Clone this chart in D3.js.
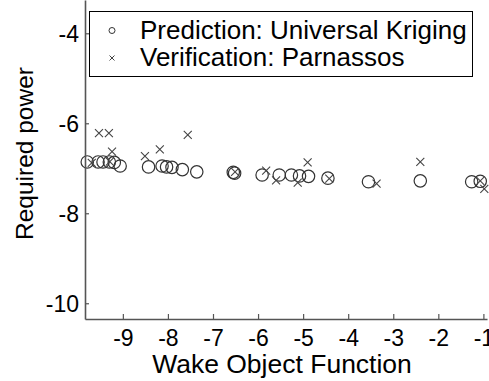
<!DOCTYPE html>
<html><head><meta charset="utf-8">
<script src="https://cdn.jsdelivr.net/npm/d3@7"></script>
<style>body{margin:0;background:#fff}svg{display:block}text{font-family:"Liberation Sans",Arial,sans-serif;fill:#000}</style>
</head><body>
<script>
const predX = [-9.79,-9.55,-9.44,-9.30,-9.19,-9.06,-8.43,-8.13,-8.03,-7.91,-7.68,-7.36,-6.55,-6.52,-5.91,-5.53,-5.26,-5.08,-4.88,-4.45,-3.55,-2.40,-1.26,-1.07];
const predY = [-6.86,-6.86,-6.86,-6.86,-6.87,-6.95,-6.97,-6.95,-6.97,-6.98,-7.03,-7.08,-7.09,-7.11,-7.15,-7.15,-7.15,-7.17,-7.18,-7.22,-7.30,-7.28,-7.30,-7.29];
const verX = [-9.69,-9.53,-9.31,-9.24,-9.29,-8.51,-8.18,-7.56,-6.51,-5.82,-5.60,-5.12,-4.90,-4.42,-3.37,-2.40,-1.07,-0.98];
const verY = [-6.88,-6.22,-6.22,-6.63,-6.85,-6.73,-6.58,-6.26,-7.08,-7.05,-7.27,-7.32,-6.87,-7.23,-7.34,-6.86,-7.28,-7.46];
const xTicks = [-9,-8,-7,-6,-5,-4,-3,-2,-1];
const yTicks = [-10,-8,-6,-4];
const seriesNames = ["Prediction: Universal Kriging","Verification: Parnassos"];

const W=489,H=381;
const svg=d3.select("body").append("svg").attr("width",W).attr("height",H);
const x=d3.scaleLinear().domain([-9.84,-0.92]).range([85,487]);
const y=d3.scaleLinear().domain([-10.35,-3.26]).range([319,0]);
const axisCol="#555";

const plot=svg.append("g");
plot.selectAll("circle.p").data(predX.map((v,i)=>[v,predY[i]])).enter().append("circle")
 .attr("cx",d=>x(d[0])).attr("cy",d=>y(d[1])).attr("r",6.2)
 .attr("fill","none").attr("stroke","#333").attr("stroke-width",1.2);
const cs=4;
const vg=plot.selectAll("g.v").data(verX.map((v,i)=>[v,verY[i]])).enter().append("g")
 .attr("transform",d=>`translate(${x(d[0])},${y(d[1])})`);
vg.append("path").attr("d",`M${-cs},${-cs}L${cs},${cs}M${-cs},${cs}L${cs},${-cs}`)
 .attr("stroke","#444").attr("stroke-width",1.1).attr("fill","none");

const gx=svg.append("g").attr("transform","translate(0,319)")
 .call(d3.axisBottom(x).tickValues(xTicks).tickSizeInner(-5).tickSizeOuter(0).tickPadding(11).tickFormat(d=>"-"+Math.abs(d)));
const gy=svg.append("g").attr("transform","translate(85,0)")
 .call(d3.axisLeft(y).tickValues(yTicks).tickSizeInner(-4).tickSizeOuter(0).tickPadding(6).tickFormat(d=>"-"+Math.abs(d)));
[gx,gy].forEach(g=>{
  g.select(".domain").attr("stroke",axisCol).attr("stroke-width",1.6);
  g.selectAll(".tick line").attr("stroke",axisCol).attr("stroke-width",1.2);
  g.selectAll(".tick text").attr("font-size",23).attr("font-family","Liberation Sans, Arial, sans-serif").attr("fill","#000");
});
gy.selectAll(".tick text").attr("dy","0.35em");

svg.append("text").attr("x",282).attr("y",373).attr("text-anchor","middle").attr("font-size",26.5).text("Wake Object Function");
svg.append("text").attr("transform","translate(33,153.5) rotate(-90)").attr("text-anchor","middle").attr("font-size",24.5).text("Required power");

const lg=svg.append("g");
lg.append("rect").attr("x",89.5).attr("y",11.5).attr("width",383).attr("height",65).attr("fill","#fff").attr("stroke","#000").attr("stroke-width",1);
lg.append("circle").attr("cx",112).attr("cy",30.5).attr("r",3).attr("fill","none").attr("stroke","#333").attr("stroke-width",1);
lg.append("path").attr("d","M109.5,55.5L114.5,60.5M109.5,60.5L114.5,55.5").attr("stroke","#444").attr("stroke-width",1);
lg.append("text").attr("x",140).attr("y",38.5).attr("font-size",26).text(seriesNames[0]);
lg.append("text").attr("x",140).attr("y",65.5).attr("font-size",26).text(seriesNames[1]);
</script>
</body></html>
